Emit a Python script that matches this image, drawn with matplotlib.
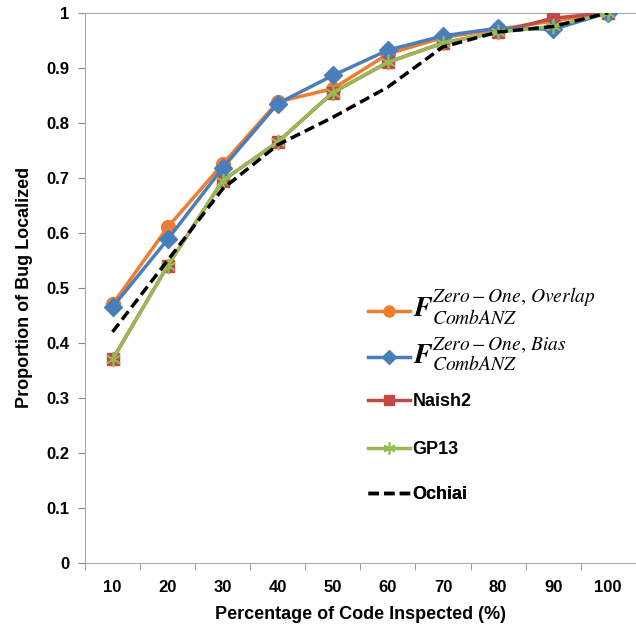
import matplotlib
matplotlib.use("Agg")
import matplotlib.pyplot as plt
from matplotlib.ticker import FixedLocator

categories = ["10", "20", "30", "40", "50", "60", "70", "80", "90", "100"]
overlap = [0.47, 0.61, 0.725, 0.838, 0.862, 0.925, 0.955, 0.97, 0.985, 1.0]
bias = [0.465, 0.588, 0.718, 0.835, 0.886, 0.932, 0.958, 0.972, 0.970, 1.0]
naish2 = [0.37, 0.54, 0.695, 0.765, 0.855, 0.91, 0.945, 0.965, 0.99, 1.0]
gp13 = [0.37, 0.54, 0.695, 0.765, 0.855, 0.91, 0.945, 0.965, 0.975, 1.0]
ochiai = [0.42, 0.55, 0.68, 0.76, 0.81, 0.865, 0.938, 0.965, 0.975, 1.0]
yticks = [0, 0.1, 0.2, 0.3, 0.4, 0.5, 0.6, 0.7, 0.8, 0.9, 1.0]
yticklabels = ['0', '0.1', '0.2', '0.3', '0.4', '0.5', '0.6', '0.7', '0.8', '0.9', '1']

plt.rcParams['font.family'] = ['Liberation Sans', 'DejaVu Sans']
plt.rcParams['mathtext.fontset'] = 'stix'

fig = plt.figure(figsize=(6.36, 6.37), dpi=100)
ax = fig.add_axes([0.1336, 0.116, 0.866, 0.864])
x = list(range(1, len(categories) + 1))

ax.plot(x, overlap, color='#ED7D31', lw=2.5, marker='o', ms=10,
        label=r'$\boldsymbol{F}^{Zero-One,\,Overlap}_{CombANZ}$', zorder=3)
ax.plot(x, bias, color='#4A7EBB', lw=2.5, marker='D', ms=9,
        label=r'$\boldsymbol{F}^{Zero-One,\,Bias}_{CombANZ}$', zorder=4)
ax.plot(x, naish2, color='#BE4B48', lw=2.5, marker='s', ms=9,
        label='Naish2', zorder=3)
ax.plot(x, gp13, color='#98B954', lw=2.5, marker=(6, 2, 0), ms=11, mew=1.2,
        label='GP13', zorder=5)
ax.plot(x, ochiai, color='black', lw=2.5, ls=(0, (3, 1.5)),
        label='Ochiai', zorder=6)

ax.set_xlim(0.5, len(categories) + 0.5)
ax.set_ylim(0, 1)
ax.set_xticks(x)
ax.set_xticklabels(categories)
ax.xaxis.set_minor_locator(FixedLocator([i + 0.5 for i in range(0, len(categories) + 1)]))
ax.tick_params(axis='x', which='major', length=0, pad=12)
ax.tick_params(axis='x', which='minor', length=5, color='#888888', direction='out')
ax.set_yticks(yticks)
ax.set_yticklabels(yticklabels)
ax.tick_params(axis='y', length=5, color='#888888', direction='out', pad=6)
for lab in ax.get_xticklabels() + ax.get_yticklabels():
    lab.set_fontweight('bold')
    lab.set_fontsize(12)

for s in ['left', 'bottom', 'top']:
    ax.spines[s].set_color('#AAAAAA')
ax.spines['right'].set_visible(False)

ax.set_xlabel('Percentage of Code Inspected (%)', fontsize=13, fontweight='bold', labelpad=8)
ax.set_ylabel('Proportion of Bug Localized', fontsize=13, fontweight='bold', labelpad=10)

# one legend per entry, stacked with even spacing
handles, labels = ax.get_legend_handles_labels()
rows_y = [0.465, 0.379, 0.293, 0.206, 0.124]
for i, (h, l, yy) in enumerate(zip(handles, labels, rows_y)):
    leg = ax.legend([h], [l], loc='center left', bbox_to_anchor=(0.485, yy),
                    frameon=False, fontsize=13, handlelength=2.3,
                    handletextpad=0.15, markerscale=0.8)
    t = leg.get_texts()[0]
    t.set_fontweight('bold')
    if i < 2:
        t.set_fontsize(20)
    ax.add_artist(leg)

fig.savefig('out.png', dpi=100)
